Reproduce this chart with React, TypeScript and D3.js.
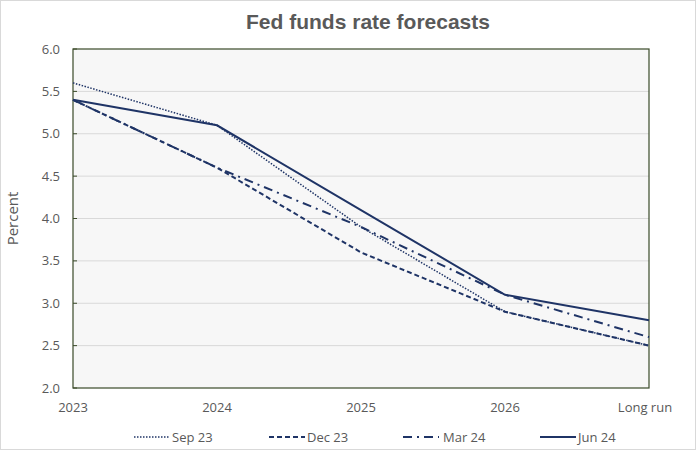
import React from "react";
import * as d3 from "d3";

const categories = ["2023", "2024", "2025", "2026", "Long run"];
const sep23 = [5.6, 5.1, 3.9, 2.9, 2.5];
const dec23 = [5.4, 4.6, 3.6, 2.9, 2.5];
const mar24 = [5.4, 4.6, 3.9, 3.1, 2.6];
const jun24 = [5.4, 5.1, 4.1, 3.1, 2.8];
const yTicks = [2.0, 2.5, 3.0, 3.5, 4.0, 4.5, 5.0, 5.5, 6.0];

const seriesList = [
  { name: "Sep 23", values: sep23, dash: "1.5,1.5", width: 1.5 },
  { name: "Dec 23", values: dec23, dash: "5,3", width: 2 },
  { name: "Mar 24", values: mar24, dash: "9,5,2,5", width: 2 },
  { name: "Jun 24", values: jun24, dash: null, width: 2 },
];
const legendX = [134, 269, 403, 540];

const W = 696, H = 450;
const L = 73, R = 649, T = 49, B = 388;
const navy = "#1f3466";
const textGray = "#595959";
const font = "'Open Sans', 'Noto Sans', sans-serif";

export default function App() {
  const x = d3.scalePoint<string>().domain(categories).range([L, R]);
  const y = d3.scaleLinear().domain([2, 6]).range([B, T]);
  const line = d3
    .line<number>()
    .x((_, i) => x(categories[i]) as number)
    .y((d) => y(d));

  return (
    <svg width={W} height={H} style={{ position: "absolute", left: 0, top: 0 }}>
      <rect x={0.5} y={0.5} width={W - 1} height={H - 1} fill="#fff" stroke="#d9d9d9" />
      <text
        x={368}
        y={29}
        textAnchor="middle"
        fontFamily="'Liberation Sans', Arial, sans-serif"
        fontWeight="bold"
        fontSize={21}
        fill={textGray}
      >
        Fed funds rate forecasts
      </text>
      <rect x={L} y={T} width={R - L} height={B - T} fill="#f7f7f7" />
      {yTicks.slice(1, -1).map((t) => (
        <line key={t} x1={L} x2={R} y1={y(t)} y2={y(t)} stroke="#d9d9d9" strokeWidth={1} />
      ))}
      {yTicks.map((t) => (
        <g key={"t" + t}>
          <line x1={L} x2={L + 4} y1={y(t)} y2={y(t)} stroke="#3a4a28" />
          <text
            x={60}
            y={y(t) + 4.5}
            textAnchor="end"
            fontFamily={font}
            fontSize={13}
            fill={textGray}
          >
            {t.toFixed(1)}
          </text>
        </g>
      ))}
      <rect x={L} y={T} width={R - L} height={B - T} fill="none" stroke="#3a4a28" strokeWidth={1.2} />
      {categories.map((c, i) => (
        <text
          key={c}
          x={i === categories.length - 1 ? (x(c) as number) - 4 : (x(c) as number)}
          y={412}
          textAnchor="middle"
          fontFamily={font}
          fontSize={13}
          fill={textGray}
        >
          {c}
        </text>
      ))}
      <text
        transform={`translate(18,${(T + B) / 2}) rotate(-90)`}
        textAnchor="middle"
        fontFamily={font}
        fontSize={15}
        fill={textGray}
      >
        Percent
      </text>
      {seriesList.map((s) => (
        <path
          key={s.name}
          d={line(s.values) || ""}
          fill="none"
          stroke={navy}
          strokeWidth={s.width}
          strokeDasharray={s.dash || undefined}
        />
      ))}
      {seriesList.map((s, i) => (
        <g key={"l" + s.name}>
          <line
            x1={legendX[i]}
            x2={legendX[i] + 36}
            y1={437}
            y2={437}
            stroke={navy}
            strokeWidth={s.width}
            strokeDasharray={s.dash || undefined}
          />
          <text
            x={legendX[i] + (i === 2 ? 40 : 38)}
            y={441.5}
            fontFamily={font}
            fontSize={13}
            fill={textGray}
          >
            {s.name}
          </text>
        </g>
      ))}
    </svg>
  );
}
